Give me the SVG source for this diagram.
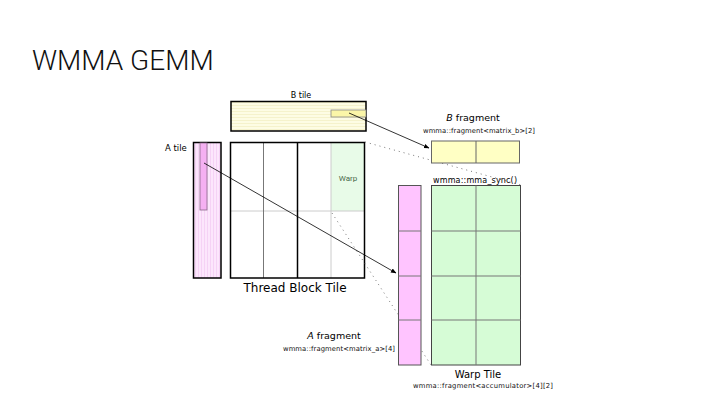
<svg xmlns="http://www.w3.org/2000/svg" width="720" height="405" viewBox="0 0 720 405">
<defs>
<style>
.t{font-family:"DejaVu Sans",sans-serif;fill:#000}
.s{font-size:6.8px;fill:#111}
.b{stroke:#000;stroke-width:1.5}
.g{stroke:#777;stroke-width:1}
.lg{stroke:#ccc;stroke-width:1}
.dot{stroke:#555;stroke-width:0.8;stroke-dasharray:1 4;fill:none}
</style>
<pattern id="hs" width="6" height="3" patternUnits="userSpaceOnUse"><rect width="6" height="3" fill="#fdfce4"/><line x1="0" y1="0.5" x2="6" y2="0.5" stroke="#f5f2cc" stroke-width="1"/></pattern>
<pattern id="vs" width="3" height="6" patternUnits="userSpaceOnUse"><rect width="3" height="6" fill="#fce6fc"/><line x1="0.5" y1="0" x2="0.5" y2="6" stroke="#f5d2f5" stroke-width="1"/></pattern>
<marker id="ah" viewBox="0 0 10 10" refX="9" refY="5" markerWidth="7" markerHeight="7" orient="auto-start-reverse"><path d="M0,1 L10,5 L0,9 Z" fill="#000"/></marker>
</defs>
<rect width="720" height="405" fill="#fff"/>
<text x="32" y="70" font-family="Roboto, sans-serif" font-weight="300" font-size="28" fill="#111">WMMA GEMM</text>

<g id="b-tile">
<text class="t" x="301" y="98" font-size="8" text-anchor="middle">B tile</text>
<rect x="231" y="101.5" width="135" height="29.5" fill="url(#hs)" stroke="#000" stroke-width="1.5"/>
<rect x="331" y="110" width="35" height="7" fill="#fbf6a8" stroke="#888" stroke-width="0.8"/>
</g>

<g id="a-tile">
<text class="t" x="165" y="151" font-size="8.5">A tile</text>
<rect x="193.5" y="142.5" width="27.5" height="135.5" fill="url(#vs)" stroke="#000" stroke-width="1.5"/>
<rect x="200" y="143" width="7" height="67" fill="#f5b0f2" stroke="#8a6a8a" stroke-width="0.8"/>
</g>

<g id="thread-block">
<rect x="331" y="142.5" width="33" height="68.5" fill="#e8fbe8"/>
<line class="lg" x1="230" y1="211" x2="364" y2="211"/>
<line class="g" x1="263.5" y1="142" x2="263.5" y2="278"/>
<line class="b" x1="297.5" y1="142" x2="297.5" y2="278" stroke-width="1.2"/>
<line class="lg" x1="331" y1="142" x2="331" y2="278"/>
<rect x="230.5" y="142.5" width="134" height="135.5" fill="none" stroke="#000" stroke-width="1.5"/>
<text x="348" y="181" font-family="Roboto, sans-serif" font-size="8" fill="#4a6a4a" text-anchor="middle">Warp</text>
<text class="t" x="295" y="292" font-size="12" text-anchor="middle" fill="#111">Thread Block Tile</text>
</g>

<g id="connectors">
<line class="dot" x1="365" y1="142" x2="521" y2="185"/>
<line class="dot" x1="332" y1="213" x2="431" y2="365"/>
<line x1="349" y1="113" x2="429" y2="148" stroke="#000" stroke-width="0.8" marker-end="url(#ah)"/>
<line x1="204" y1="163" x2="396" y2="273" stroke="#000" stroke-width="0.8" marker-end="url(#ah)"/>
</g>

<g id="b-fragment">
<text class="t" x="473" y="121" font-size="9.5" text-anchor="middle"><tspan font-style="italic">B</tspan> fragment</text>
<text class="t s" x="423" y="133" textLength="112" lengthAdjust="spacing">wmma::fragment&lt;matrix_b&gt;[2]</text>
<rect x="431.5" y="141" width="88" height="22" fill="#ffffc4" stroke="#666" stroke-width="1"/>
<line x1="476" y1="141" x2="476" y2="163" stroke="#666" stroke-width="1"/>
</g>

<text class="t" x="433" y="183" font-size="8" fill="#111" textLength="84" lengthAdjust="spacing">wmma::mma_sync()</text>

<g id="a-fragment">
<text class="t" x="334" y="339" font-size="9.5" text-anchor="middle"><tspan font-style="italic">A</tspan> fragment</text>
<text class="t s" x="283" y="351" textLength="112" lengthAdjust="spacing">wmma::fragment&lt;matrix_a&gt;[4]</text>
<rect x="398.5" y="185.5" width="22.5" height="179.5" fill="#ffc4ff" stroke="#555" stroke-width="1"/>
<line x1="398.5" y1="231" x2="421" y2="231" stroke="#777"/>
<line x1="398.5" y1="276" x2="421" y2="276" stroke="#777"/>
<line x1="398.5" y1="320" x2="421" y2="320" stroke="#777"/>
</g>

<g id="warp-tile">
<rect x="431.5" y="185.5" width="89" height="179.5" fill="#d6fcd6" stroke="#444" stroke-width="1"/>
<line x1="476" y1="185.5" x2="476" y2="365" stroke="#777"/>
<line x1="431.5" y1="231" x2="520.5" y2="231" stroke="#777" stroke-width="1.2"/>
<line x1="431.5" y1="276" x2="520.5" y2="276" stroke="#777"/>
<line x1="431.5" y1="320" x2="520.5" y2="320" stroke="#777"/>
<text class="t" x="478" y="378" font-size="10" text-anchor="middle">Warp Tile</text>
<text class="t s" x="413" y="388" textLength="140" lengthAdjust="spacing">wmma::fragment&lt;accumulator&gt;[4][2]</text>
</g>
</svg>
